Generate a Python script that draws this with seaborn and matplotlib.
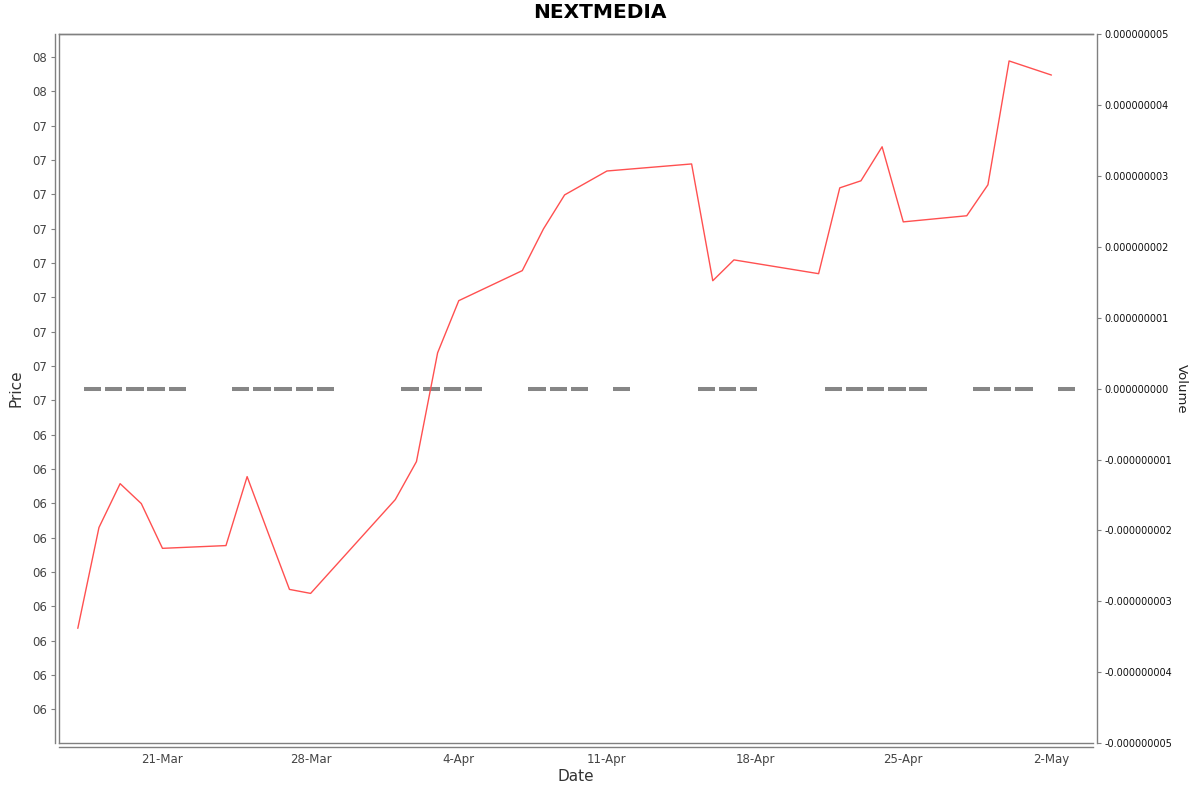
import numpy as np
import pandas as pd
import seaborn as sns
import matplotlib
matplotlib.use("Agg")
import matplotlib.pyplot as plt
import matplotlib.dates as mdates
from matplotlib.ticker import FixedLocator, FuncFormatter

# datos
fechas = ["2014-03-17", "2014-03-18", "2014-03-19", "2014-03-20", "2014-03-21",
          "2014-03-24", "2014-03-25", "2014-03-26", "2014-03-27", "2014-03-28",
          "2014-04-01", "2014-04-02", "2014-04-03", "2014-04-04",
          "2014-04-07", "2014-04-08", "2014-04-09", "2014-04-11",
          "2014-04-15", "2014-04-16", "2014-04-17",
          "2014-04-21", "2014-04-22", "2014-04-23", "2014-04-24", "2014-04-25",
          "2014-04-28", "2014-04-29", "2014-04-30", "2014-05-02"]
precio = [6.264, 6.593, 6.736, 6.671, 6.525,
          6.534, 6.759, 6.574, 6.391, 6.378,
          6.684, 6.808, 7.163, 7.333,
          7.431, 7.567, 7.678, 7.756,
          7.779, 7.398, 7.466,
          7.421, 7.701, 7.724, 7.835, 7.590,
          7.610, 7.711, 8.115, 8.069]
volumen = [0, 0, 0, 0, 0,
           0, 0, 0, 0, 0,
           0, 0, 0, 0,
           0, 0, 0, 0,
           0, 0, 0,
           0, 0, 0, 0, 0,
           0, 0, 0, 0]
titulo = "NEXTMEDIA"

df = pd.DataFrame({"Date": pd.to_datetime(fechas), "Price": precio, "Volume": volumen})

sns.set_style("white")
plt.rcParams["font.family"] = ["DejaVu Sans"]

gris = "#808080"
fig = plt.figure(figsize=(12, 7.92), dpi=100)
ax = fig.add_axes([0.0494, 0.0615, 0.8617, 0.8956])
ax2 = ax.twinx()

# volumen (barras de altura cero, se ven como trazos grises)
ax2.bar(df["Date"] + pd.Timedelta(hours=7), df["Volume"], width=0.82, align="edge",
        color=gris, edgecolor=gris, linewidth=2.9, alpha=0.95)
ax2.set_ylim(-5e-9, 5e-9)
ax2.yaxis.set_major_locator(FixedLocator(np.arange(-5, 6) * 1e-9))
ax2.yaxis.set_major_formatter(FuncFormatter(lambda v, p: f"{v:.9f}"))
ax2.set_ylabel("Volume", rotation=-90, labelpad=11, fontsize=9.5, color="#222222")

# precio
sns.lineplot(data=df, x="Date", y="Price", ax=ax, color="#ff5050", linewidth=1.0)
ax.set_zorder(ax2.get_zorder() + 1)
ax.patch.set_visible(False)

ax.set_xlim(pd.Timestamp("2014-03-16 03:00"), pd.Timestamp("2014-05-03 23:30"))
ax.set_ylim(5.889, 8.203)
ax.yaxis.set_major_locator(FixedLocator(6.0 + 0.112 * np.arange(20)))
ax.yaxis.set_major_formatter(FuncFormatter(lambda v, p: f"{int(v + 1e-6):02d}"))
ax.xaxis.set_major_locator(mdates.WeekdayLocator(byweekday=mdates.FR))
ax.xaxis.set_major_formatter(FuncFormatter(
    lambda v, p: f"{mdates.num2date(v).day}-{mdates.num2date(v).strftime('%b')}"))

fig.text(0.5, 1 - 13 / 792, titulo, ha="center", va="center",
         fontsize=14.5, fontweight="bold", color="black")
ax.set_xlabel("Date", fontsize=11, color="#333333", labelpad=2)
ax.set_ylabel("Price", fontsize=11, color="#333333", labelpad=6)

# ejes separados del marco, como en el original
for s in ax.spines.values():
    s.set_color(gris)
    s.set_linewidth(1.0)
for s in ax2.spines.values():
    s.set_color(gris)
    s.set_linewidth(1.0)
ax.spines["left"].set_position(("outward", 2.9))
ax.spines["bottom"].set_position(("outward", 2.9))
ax2.spines["right"].set_position(("outward", 2.9))
ax.spines["right"].set_visible(False)

ax.tick_params(axis="y", length=3, color=gris, labelsize=8.5, labelcolor="#444444", pad=3)
ax.tick_params(axis="x", length=2, color=gris, labelsize=8.5, labelcolor="#444444", pad=2)
ax2.tick_params(axis="y", length=3, color=gris, labelsize=7, labelcolor="#111111", pad=2)

fig.savefig("out.png", dpi=100)
